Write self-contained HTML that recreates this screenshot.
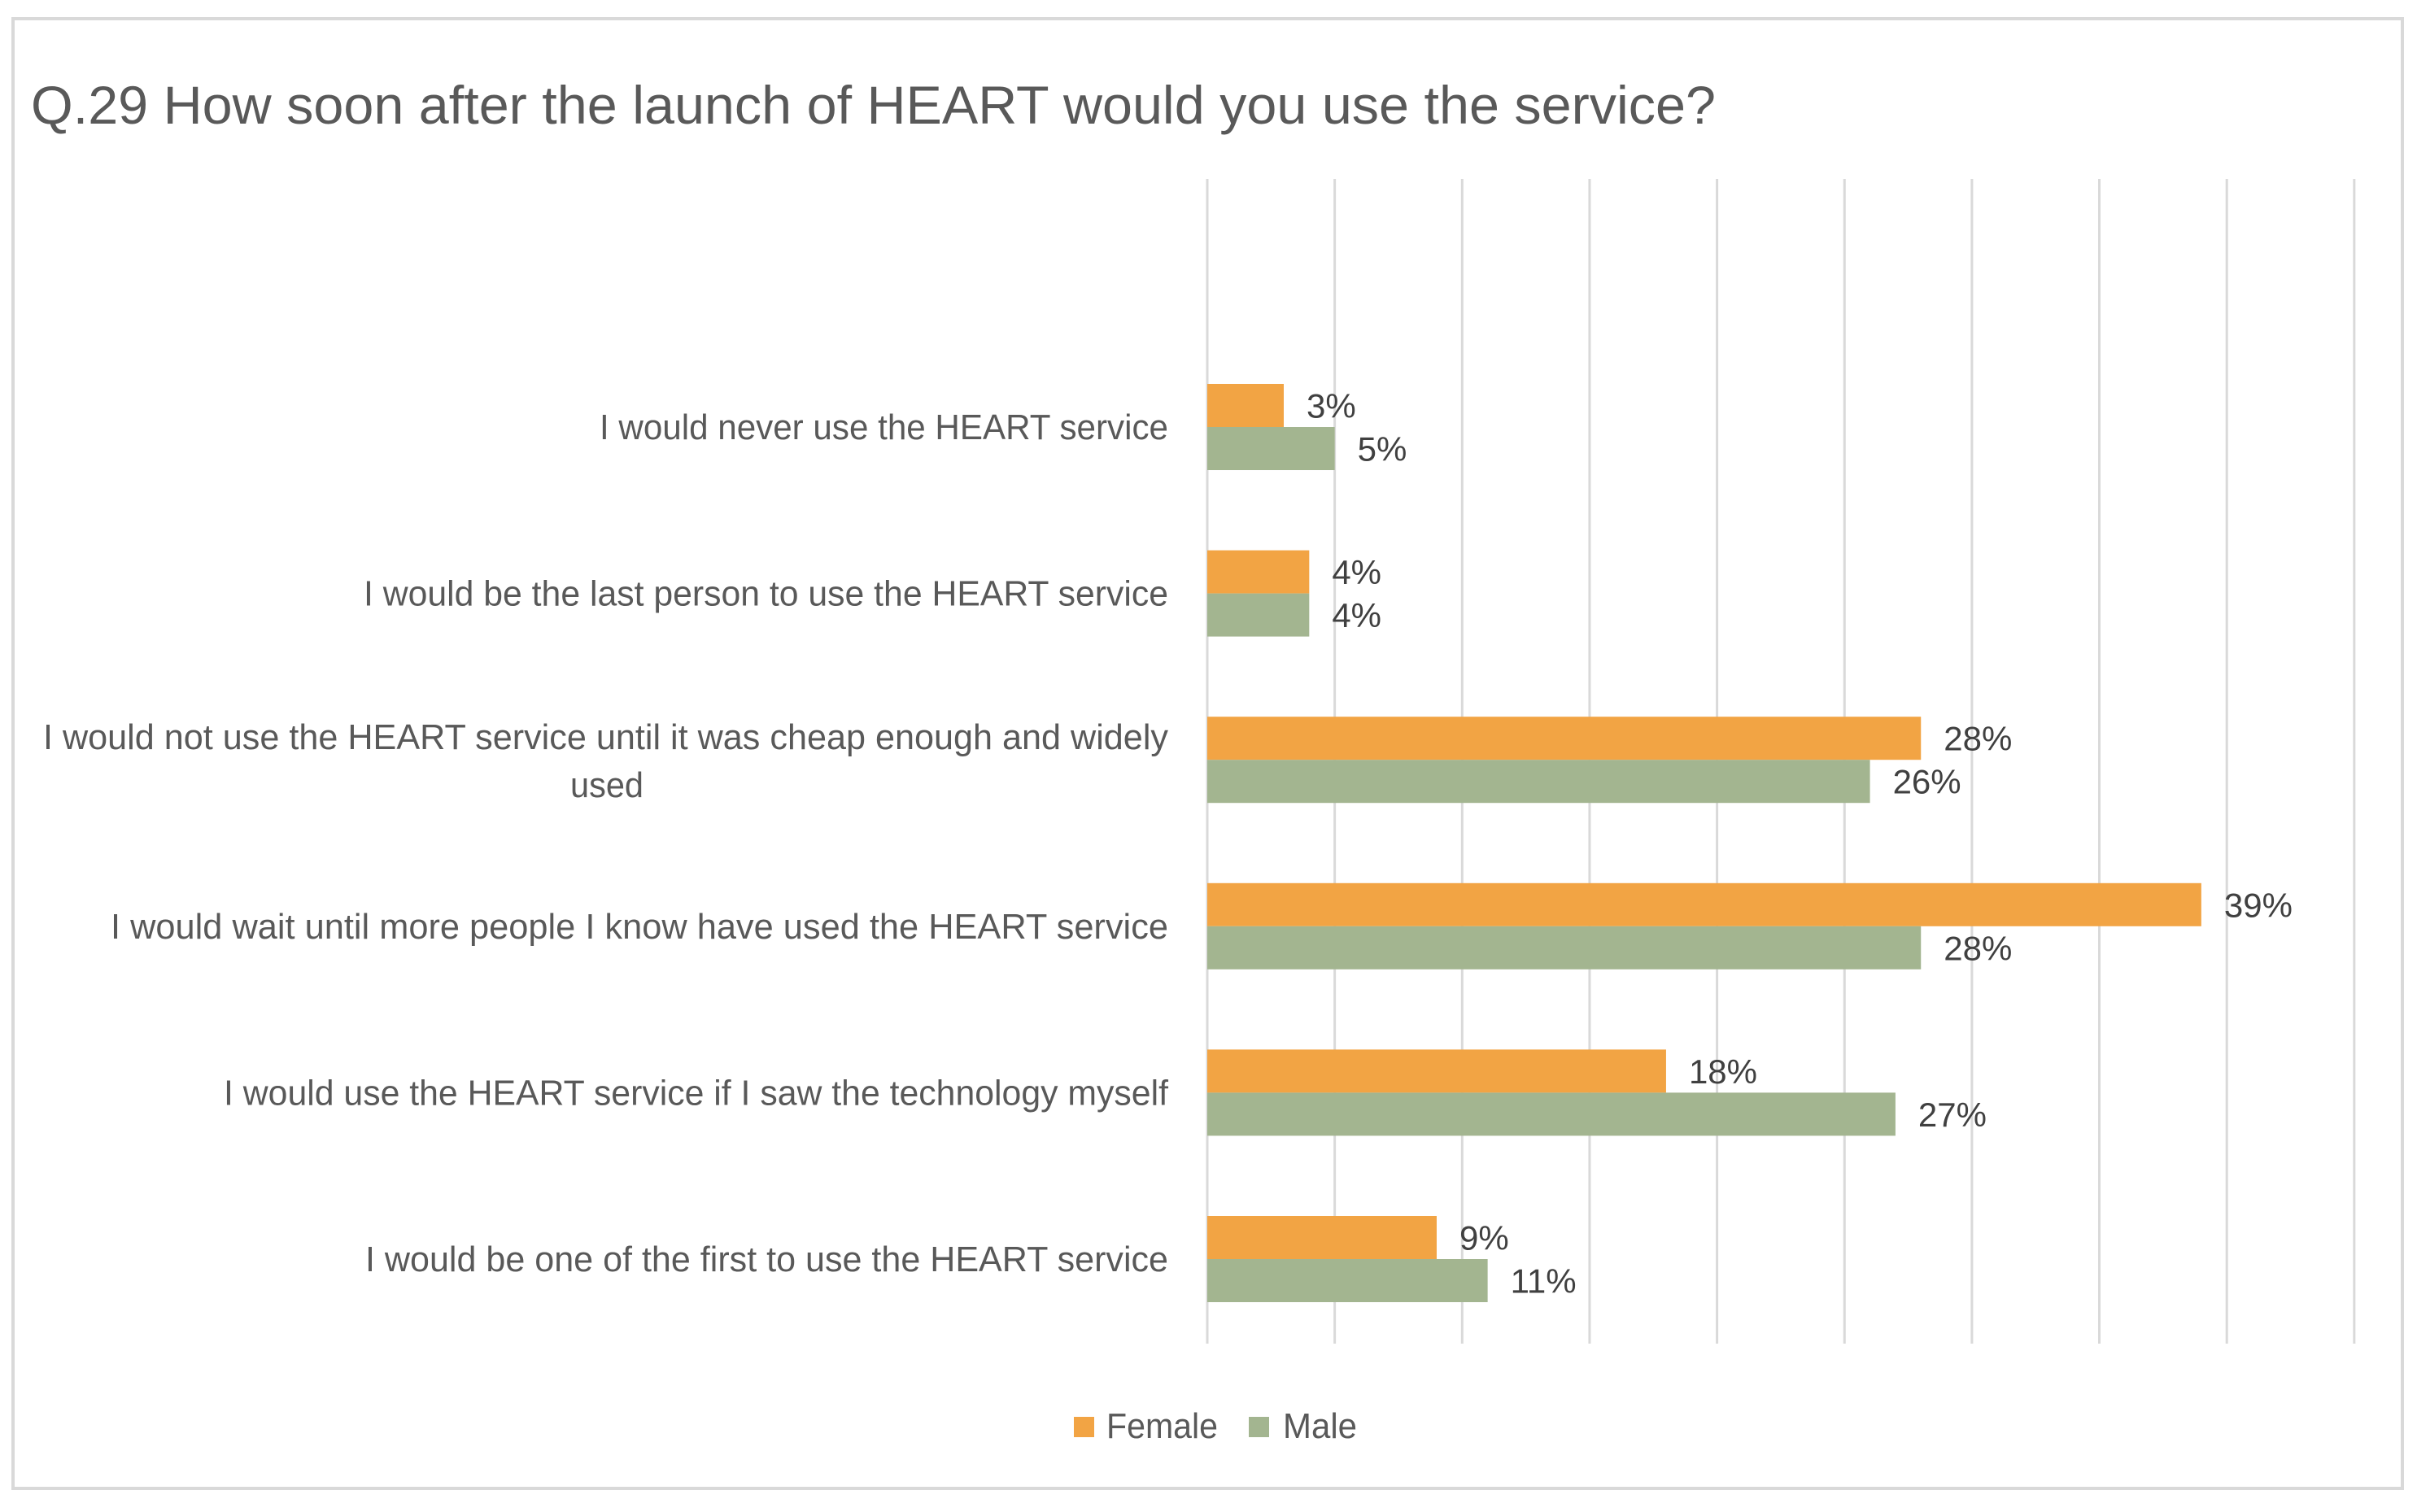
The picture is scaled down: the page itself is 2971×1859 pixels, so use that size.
<!DOCTYPE html>
<html><head><meta charset="utf-8"><style>
html,body{margin:0;padding:0;background:#fff;}
svg{display:block;}
text{font-family:"Liberation Sans",sans-serif;}
</style></head><body>
<svg id="chart" width="2971" height="1859" viewBox="0 0 2971 1859" xmlns="http://www.w3.org/2000/svg">
<rect x="16" y="23" width="2937" height="1807" fill="#fff" stroke="#d9d9d9" stroke-width="4"/>
<text x="38" y="152" font-size="66" fill="#595959" textLength="2071" lengthAdjust="spacingAndGlyphs">Q.29 How soon after the launch of HEART would you use the service?</text>
<g id="grid"></g>
<g id="bars"></g>
<g id="labels"></g>
<g>
<rect x="1320" y="1742" width="25" height="25" fill="#f2a444"/>
<text x="1360" y="1768" font-size="44" fill="#595959" textLength="137" lengthAdjust="spacingAndGlyphs">Female</text>
<rect x="1535" y="1742" width="25" height="25" fill="#a3b590"/>
<text x="1577" y="1768" font-size="44" fill="#595959" textLength="91" lengthAdjust="spacingAndGlyphs">Male</text>
</g>
</svg>
<script>
const categories = [
  "I would never use the HEART service",
  "I would be the last person to use the HEART service",
  "I would not use the HEART service until it was cheap enough and widely|used",
  "I would wait until more people I know have used the HEART service",
  "I would use the HEART service if I saw the technology myself",
  "I would be one of the first to use the HEART service"
];
const female = [3, 4, 28, 39, 18, 9];
const male = [5, 4, 26, 28, 27, 11];
const xTicks = [0, 5, 10, 15, 20, 25, 30, 35, 40, 45];

const NS = "http://www.w3.org/2000/svg";
const x0 = 1484, pxPer = 31.33;
const xs = v => x0 + v * pxPer;
const catCenter = i => 525 + i * 204.6;
const barH = 53;
const grid = document.getElementById('grid');
const bars = document.getElementById('bars');
const labels = document.getElementById('labels');
function mk(tag, attrs, parent){const e=document.createElementNS(NS,tag);for(const k in attrs)e.setAttribute(k,attrs[k]);parent.appendChild(e);return e;}

xTicks.forEach((t,i)=>{
  const l = mk('line',{x1:xs(t),x2:xs(t),y1:220,y2:1652,stroke:'#d9d9d9','stroke-width':3},grid);
  
  
});

const labelStart = [737, 447, 53, 136, 275, 449];
categories.forEach((c,i)=>{
  const cy = catCenter(i);
  const parts = c.split('|');
  if(parts.length===1){
    const t = mk('text',{x:1436,y:cy+15,'font-size':44,fill:'#595959','text-anchor':'end',textLength:1436-labelStart[i],lengthAdjust:'spacingAndGlyphs'},labels);
    t.textContent = parts[0];
    
    
  } else {
    const t1 = mk('text',{x:1436,y:cy-13,'font-size':44,fill:'#595959','text-anchor':'end',textLength:1436-labelStart[i],lengthAdjust:'spacingAndGlyphs'},labels);
    t1.textContent = parts[0];
    
    
    const t2 = mk('text',{x:746,y:cy+46,'font-size':44,fill:'#595959','text-anchor':'middle',textLength:90,lengthAdjust:'spacingAndGlyphs'},labels);
    t2.textContent = parts[1];
    
    
  }
  const fy = cy - barH, my = cy;
  const fb = mk('rect',{x:x0,y:fy,width:xs(female[i])-x0,height:barH,fill:'#f2a444'},bars);
  
  
  const mb = mk('rect',{x:x0,y:my,width:xs(male[i])-x0,height:barH,fill:'#a3b590'},bars);
  
  
  const fl = mk('text',{x:xs(female[i])+28,y:fy+barH/2+15,'font-size':42,fill:'#404040'},labels);
  fl.textContent = female[i]+'%';
  
  
  const ml = mk('text',{x:xs(male[i])+28,y:my+barH/2+15,'font-size':42,fill:'#404040'},labels);
  ml.textContent = male[i]+'%';
  
  
});
</script>
</body></html>
